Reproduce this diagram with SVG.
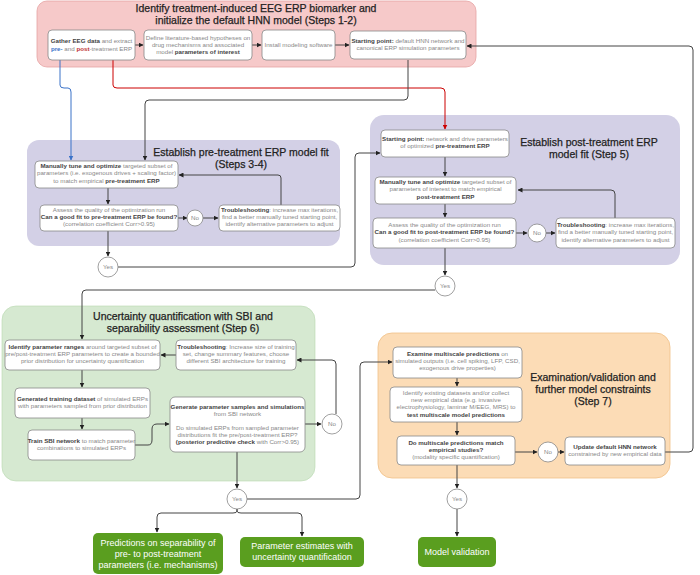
<svg xmlns="http://www.w3.org/2000/svg" width="700" height="575" viewBox="0 0 700 575">
<style>
text{font-family:"Liberation Sans",Arial,sans-serif;}
.t{font-size:6.2px;fill:#888;text-anchor:middle}
.b{font-weight:bold;fill:#444}
.h{font-size:10.5px;fill:#222;text-anchor:middle;stroke:#222;stroke-width:0.25}
.box{fill:#fff;stroke:#888;stroke-width:0.8}
.c{fill:#fff;stroke:#888;stroke-width:0.8}
.ln{fill:none;stroke:#444;stroke-width:1}
.g{fill:#5a9e1f;stroke:none}
.gt{font-size:9px;fill:#fff;text-anchor:middle}
</style>
<defs>
<marker id="a" viewBox="0 0 10 10" refX="9" refY="5" markerWidth="5" markerHeight="5" orient="auto"><path d="M0,0L10,5L0,10z" fill="#222"/></marker>
<marker id="ar" viewBox="0 0 10 10" refX="9" refY="5" markerWidth="5" markerHeight="5" orient="auto"><path d="M0,0L10,5L0,10z" fill="#c00"/></marker>
<marker id="ab" viewBox="0 0 10 10" refX="9" refY="5" markerWidth="5" markerHeight="5" orient="auto"><path d="M0,0L10,5L0,10z" fill="#3a72c8"/></marker>
</defs>
<rect width="700" height="575" fill="#fff"/>
<rect id="p1" x="37" y="1" width="439" height="66" rx="10" fill="#f6c9c9" stroke="#e6a3a3" stroke-width="0.8"/>
<text class="h" x="256" y="12">Identify treatment-induced EEG ERP biomarker and</text>
<text class="h" x="256" y="24">initialize the default HNN model (Steps 1-2)</text>
<rect id="p2" x="27" y="140" width="313" height="106" rx="12" fill="#d3d0e6"/>
<text class="h" x="241" y="156">Establish pre-treatment ERP model fit</text>
<text class="h" x="241" y="168">(Steps 3-4)</text>
<rect id="p3" x="370" y="115" width="310" height="150" rx="14" fill="#d3d0e6"/>
<text class="h" x="589" y="146">Establish post-treatment ERP</text>
<text class="h" x="589" y="158">model fit (Step 5)</text>
<rect id="p4" x="2" y="306" width="313" height="175" rx="14" fill="#d6e9d1" stroke="#b8d8b0" stroke-width="0.6"/>
<text class="h" x="183" y="320">Uncertainty quantification with SBI and</text>
<text class="h" x="183" y="332">separability assessment (Step 6)</text>
<rect id="p5" x="378" y="333" width="292" height="145" rx="14" fill="#fcdcb6" stroke="#f0c088" stroke-width="0.8"/>
<text class="h" x="593" y="381">Examination/validation and</text>
<text class="h" x="593" y="393">further model constraints</text>
<text class="h" x="593" y="405">(Step 7)</text>

<g id="connectors">
<path class="ln" d="M135,45H143" marker-end="url(#a)"/>
<path class="ln" d="M252,45H261" marker-end="url(#a)"/>
<path class="ln" d="M335,45H349" marker-end="url(#a)"/>
<path d="M60,60V85Q60,88 64,88H68Q71,88 71,92V160" fill="none" stroke="#3a72c8" stroke-width="1" marker-end="url(#ab)"/>
<path d="M113,60V85Q113,88 117,88H441Q445,88 445,92V129" fill="none" stroke="#c00" stroke-width="1" marker-end="url(#ar)"/>
<path class="ln" d="M408,60V96Q408,100 404,100H149Q145,100 145,104V160" marker-end="url(#a)"/>
<path class="ln" d="M108,188V204" marker-end="url(#a)"/>
<path class="ln" d="M178,218H187" marker-end="url(#a)"/>
<path class="ln" d="M203,218H218" marker-end="url(#a)"/>
<path class="ln" d="M281,205V178Q281,175 278,175H179" marker-end="url(#a)"/>
<path class="ln" d="M108,231V256" marker-end="url(#a)"/>
<path class="ln" d="M118,267H351Q355,267 355,263V157Q355,153 359,153H380" marker-end="url(#a)"/>
<path class="ln" d="M445,157V176" marker-end="url(#a)"/>
<path class="ln" d="M445,204V217" marker-end="url(#a)"/>
<path class="ln" d="M516,233H527" marker-end="url(#a)"/>
<path class="ln" d="M546,233H555" marker-end="url(#a)"/>
<path class="ln" d="M615,218V194Q615,190 611,190H518" marker-end="url(#a)"/>
<path class="ln" d="M445,248V275" marker-end="url(#a)"/>
<path class="ln" d="M435,290H86Q82,290 82,294V339" marker-end="url(#a)"/>
<path class="ln" d="M176,355H161" marker-end="url(#a)"/>
<path class="ln" d="M336,414V364Q336,360 332,360H297" marker-end="url(#a)"/>
<path class="ln" d="M82,370V387" marker-end="url(#a)"/>
<path class="ln" d="M82,418V429" marker-end="url(#a)"/>
<path class="ln" d="M135,445H148Q152,445 152,440V429Q152,424 157,424H169" marker-end="url(#a)"/>
<path class="ln" d="M305,424H321" marker-end="url(#a)"/>
<path class="ln" d="M237,452V488" marker-end="url(#a)"/>
<path class="ln" d="M247,499H356Q360,499 360,495V366Q360,362 364,362H392" marker-end="url(#a)"/>
<path class="ln" d="M237,509V511Q237,513 233,513H161Q157,513 157,517V532" marker-end="url(#a)"/>
<path class="ln" d="M237,509V511Q237,513 241,513H298Q302,513 302,517V536" marker-end="url(#a)"/>
<path class="ln" d="M457,378V386" marker-end="url(#a)"/>
<path class="ln" d="M457,422V435" marker-end="url(#a)"/>
<path class="ln" d="M515,452H537" marker-end="url(#a)"/>
<path class="ln" d="M558,452H564" marker-end="url(#a)"/>
<path class="ln" d="M665,452H689Q693,452 693,448V50Q693,46 689,46H467" marker-end="url(#a)"/>
<path class="ln" d="M457,465V488" marker-end="url(#a)"/>
<path class="ln" d="M457,509V536" marker-end="url(#a)"/>
</g>

<g id="n1"><rect class="box" x="48" y="30" width="87" height="30" rx="4"/>
<text class="t" x="91.5" y="43"><tspan class="b">Gather EEG data</tspan> and extract</text>
<text class="t" x="91.5" y="51"><tspan style="fill:#3a72c8;font-weight:bold">pre-</tspan> and <tspan style="fill:#c03030;font-weight:bold">post</tspan>-treatment ERP</text></g>
<g id="n2"><rect class="box" x="144" y="30" width="108" height="30" rx="4"/>
<text class="t" x="198" y="40">Define literature-based hypotheses on</text>
<text class="t" x="198" y="47">drug mechanisms and associated</text>
<text class="t" x="198" y="54">model <tspan class="b">parameters of interest</tspan></text></g>
<g id="n3"><rect class="box" x="262" y="30" width="73" height="30" rx="4"/>
<text class="t" x="298.5" y="47">Install modeling software</text></g>
<g id="n4"><rect class="box" x="350" y="31" width="116" height="28" rx="4"/>
<text class="t" x="408" y="43"><tspan class="b">Starting point:</tspan> default HNN network and</text>
<text class="t" x="408" y="50">canonical ERP simulation parameters</text></g>

<g id="n5"><rect class="box" x="35" y="161" width="143" height="27" rx="4"/>
<text class="t" x="106.5" y="168"><tspan class="b">Manually tune and optimize</tspan> targeted subset of</text>
<text class="t" x="106.5" y="175">parameters (i.e. exogenous drives + scaling factor)</text>
<text class="t" x="106.5" y="183">to match empirical <tspan class="b">pre-treatment ERP</tspan></text></g>
<g id="n6"><rect class="box" x="40" y="205" width="138" height="26" rx="4"/>
<text class="t" x="109" y="212">Assess the quality of the optimization run</text>
<text class="t" x="109" y="219"><tspan class="b">Can a good fit to pre-treatment ERP be found?</tspan></text>
<text class="t" x="109" y="226">(correlation coefficient Corr&gt;0.95)</text></g>
<g id="n7"><circle class="c" cx="195" cy="218" r="8"/><text class="t" x="195" y="220">No</text></g>
<g id="n8"><rect class="box" x="219" y="205" width="121" height="26" rx="4"/>
<text class="t" x="279.5" y="212"><tspan class="b">Troubleshooting</tspan>: increase max iterations,</text>
<text class="t" x="279.5" y="219">find a better manually tuned starting point,</text>
<text class="t" x="279.5" y="226">identify alternative parameters to adjust</text></g>
<g id="n9"><circle class="c" cx="108" cy="267" r="10"/><text class="t" x="108" y="269">Yes</text></g>

<g id="n10"><rect class="box" x="381" y="130" width="128" height="27" rx="4"/>
<text class="t" x="445" y="141"><tspan class="b">Starting point:</tspan> network and drive parameters</text>
<text class="t" x="445" y="148">of optimized <tspan class="b">pre-treatment ERP</tspan></text></g>
<g id="n11"><rect class="box" x="375" y="177" width="141" height="27" rx="4"/>
<text class="t" x="445.5" y="184"><tspan class="b">Manually tune and optimize</tspan> targeted subset of</text>
<text class="t" x="445.5" y="191">parameters of interest to match empirical</text>
<text class="t" x="445.5" y="199"><tspan class="b">post-treatment ERP</tspan></text></g>
<g id="n12"><rect class="box" x="373" y="218" width="143" height="30" rx="4"/>
<text class="t" x="444.5" y="227">Assess the quality of the optimization run</text>
<text class="t" x="444.5" y="234"><tspan class="b">Can a good fit to post-treatment ERP be found?</tspan></text>
<text class="t" x="444.5" y="242">(correlation coefficient Corr&gt;0.95)</text></g>
<g id="n13"><circle class="c" cx="537" cy="233" r="9"/><text class="t" x="537" y="235">No</text></g>
<g id="n14"><rect class="box" x="556" y="218" width="119" height="30" rx="4"/>
<text class="t" x="615.5" y="227"><tspan class="b">Troubleshooting</tspan>: increase max iterations,</text>
<text class="t" x="615.5" y="234">find a better manually tuned starting point,</text>
<text class="t" x="615.5" y="242">identify alternative parameters to adjust</text></g>
<g id="n15"><circle class="c" cx="445" cy="286" r="10"/><text class="t" x="445" y="288">Yes</text></g>

<g id="n16"><rect class="box" x="5" y="340" width="155" height="30" rx="4"/>
<text class="t" x="82.5" y="349"><tspan class="b">Identify parameter ranges</tspan> around targeted subset of</text>
<text class="t" x="82.5" y="356">pre/post-treatment ERP parameters to create a bounded</text>
<text class="t" x="82.5" y="363">prior distribution for uncertainty quantification</text></g>
<g id="n17"><rect class="box" x="176" y="340" width="120" height="30" rx="4"/>
<text class="t" x="236" y="349"><tspan class="b">Troubleshooting</tspan>: Increase size of training</text>
<text class="t" x="236" y="356">set, change summary features, choose</text>
<text class="t" x="236" y="363">different SBI architecture for training</text></g>
<g id="n18"><rect class="box" x="15" y="388" width="135" height="30" rx="4"/>
<text class="t" x="82.5" y="401"><tspan class="b">Generated training dataset</tspan> of simulated ERPs</text>
<text class="t" x="82.5" y="408">with parameters sampled from prior distribution</text></g>
<g id="n19"><rect class="box" x="28" y="430" width="107" height="30" rx="4"/>
<text class="t" x="81.5" y="443"><tspan class="b">Train SBI network</tspan> to match parameter</text>
<text class="t" x="81.5" y="450">combinations to simulated ERPs</text></g>
<g id="n20"><rect class="box" x="170" y="397" width="135" height="55" rx="5"/>
<text class="t" x="237.5" y="409"><tspan class="b">Generate parameter samples and simulations</tspan></text>
<text class="t" x="237.5" y="416">from SBI network</text>
<text class="t" x="237.5" y="430">Do simulated ERPs from sampled parameter</text>
<text class="t" x="237.5" y="437">distributions fit the pre/post-treatment ERP?</text>
<text class="t" x="237.5" y="444"><tspan class="b">(posterior predictive check</tspan> with Corr&gt;0.95)</text></g>
<g id="n21"><circle class="c" cx="332" cy="424" r="10"/><text class="t" x="332" y="426">No</text></g>
<g id="n22"><circle class="c" cx="237" cy="499" r="10"/><text class="t" x="237" y="501">Yes</text></g>

<g id="n23"><rect class="box" x="393" y="347" width="129" height="31" rx="4"/>
<text class="t" x="457.5" y="356"><tspan class="b">Examine multiscale predictions</tspan> on</text>
<text class="t" x="457.5" y="363">simulated outputs (i.e. cell spiking, LFP, CSD,</text>
<text class="t" x="457.5" y="370">exogenous drive properties)</text></g>
<g id="n24"><rect class="box" x="390" y="387" width="132" height="35" rx="4"/>
<text class="t" x="456" y="395">Identify existing datasets and/or collect</text>
<text class="t" x="456" y="402">new empirical data (e.g. invasive</text>
<text class="t" x="456" y="409">electrophysiology, laminar M/EEG, MRS) to</text>
<text class="t" x="456" y="417"><tspan class="b">test multiscale model predictions</tspan></text></g>
<g id="n25"><rect class="box" x="397" y="436" width="118" height="29" rx="4"/>
<text class="t" x="456" y="445"><tspan class="b">Do multiscale predictions match</tspan></text>
<text class="t" x="456" y="452"><tspan class="b">empirical studies?</tspan></text>
<text class="t" x="456" y="459">(modality specific quantification)</text></g>
<g id="n26"><circle class="c" cx="548" cy="452" r="10"/><text class="t" x="548" y="454">No</text></g>
<g id="n27"><rect class="box" x="565" y="437" width="100" height="28" rx="4"/>
<text class="t" x="615" y="449"><tspan class="b">Update default HNN network</tspan></text>
<text class="t" x="615" y="456">constrained by new empirical data</text></g>
<g id="n28"><circle class="c" cx="457" cy="499" r="10"/><text class="t" x="457" y="501">Yes</text></g>

<g id="n29"><rect class="g" x="93" y="533" width="130" height="41" rx="5"/>
<text class="gt" x="158" y="546">Predictions on separability of</text>
<text class="gt" x="158" y="557">pre- to post-treatment</text>
<text class="gt" x="158" y="568">parameters (i.e. mechanisms)</text></g>
<g id="n30"><rect class="g" x="240" y="537" width="124" height="30" rx="5"/>
<text class="gt" x="302" y="549">Parameter estimates with</text>
<text class="gt" x="302" y="560">uncertainty quantification</text></g>
<g id="n31"><rect class="g" x="418" y="537" width="78" height="30" rx="5"/>
<text class="gt" x="457" y="555">Model validation</text></g>
</svg>
